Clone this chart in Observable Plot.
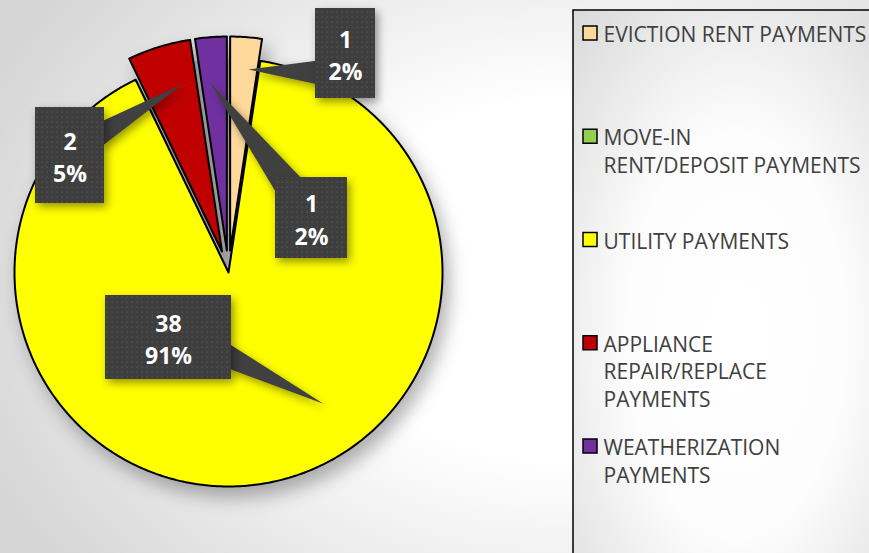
<!DOCTYPE html>
<html><head><meta charset="utf-8">
<script src="https://cdn.jsdelivr.net/npm/d3@7"></script>
<script src="https://cdn.jsdelivr.net/npm/@observablehq/plot@0.6"></script>
<style>
html,body{margin:0;padding:0;overflow:hidden;}
#chart{width:869px;height:553px;background:radial-gradient(ellipse 620px 470px at 560px 280px,#ffffff 0%,#ffffff 38%,#d6d6d6 100%);}
#chart svg{display:block;background:transparent;}
</style></head><body><div id="chart"></div>
<script>
// ---- data ----
const categories = ["EVICTION RENT PAYMENTS","MOVE-IN RENT/DEPOSIT PAYMENTS","UTILITY PAYMENTS","APPLIANCE REPAIR/REPLACE PAYMENTS","WEATHERIZATION PAYMENTS"];
const legendLabels = ["EVICTION RENT PAYMENTS","MOVE-IN\nRENT/DEPOSIT PAYMENTS","UTILITY PAYMENTS","APPLIANCE\nREPAIR/REPLACE\nPAYMENTS","WEATHERIZATION\nPAYMENTS"];
const counts = [1, 0, 38, 2, 1];
const percents = [2, 0, 91, 5, 2];   // as printed on the chart
const colors = ["#fed99b","#92d050","#ffff00","#c00000","#7030a0"];

// ---- layout (pixel space, mapped through identity-like scales) ----
const W = 869, H = 553;
const C = [228, 272], R = 214, EXPLODE = 22;
const exploded = [true, false, false, true, true];
const labelLayout = [
  {box:[315,375,8,98],   tipDa: 1.5,  tipR:182, base:[[318,60],[318,84]]},
  null,
  {box:[105,231,295,379],tipDa:-27.3, tipR:162, base:[[228,343],[228,368]]},
  {box:[35,104,107,203], tipDa: 3.9,  tipR:172, base:[[101,121],[101,146]]},
  {box:[275,347,177,258],tipDa:-1.3,  tipR:168, base:[[278,196],[303,180]]}
];
const legendBox = {x1:573, x2:900, y1:10, y2:600};
const legendY0 = 33, legendStep = 103.25;

// ---- geometry ----
const arcs = d3.pie().sort(null).value(d => d)(counts);
const slicePts = [], gapPts = [], pointerPts = [], labels = [];
arcs.forEach((a, i) => {
  if (counts[i] === 0) return;
  const cat = categories[i];
  const mid = (a.startAngle + a.endAngle) / 2;
  const off = exploded[i] ? EXPLODE : 0;
  const ox = C[0] + off * Math.sin(mid), oy = C[1] - off * Math.cos(mid);
  const n = Math.max(4, Math.ceil((a.endAngle - a.startAngle) / 0.01));
  slicePts.push({cat, x: ox, y: oy});
  for (let k = 0; k <= n; k++) {
    const t = a.startAngle + (a.endAngle - a.startAngle) * k / n;
    slicePts.push({cat, x: ox + R * Math.sin(t), y: oy - R * Math.cos(t)});
  }
  if (exploded[i]) {
    gapPts.push({cat, x: C[0], y: C[1]});
    for (let k = 0; k <= n; k++) {
      const t = a.startAngle + (a.endAngle - a.startAngle) * k / n;
      gapPts.push({cat, x: C[0] + R * Math.sin(t), y: C[1] - R * Math.cos(t)});
    }
  }
  const L = labelLayout[i];
  if (L) {
    const ta = mid + L.tipDa * Math.PI / 180;
    pointerPts.push({cat, x: ox + L.tipR * Math.sin(ta), y: oy - L.tipR * Math.cos(ta)});
    L.base.forEach(p => pointerPts.push({cat, x: p[0], y: p[1]}));
    labels.push({cat, x1: L.box[0], x2: L.box[1], y1: L.box[2], y2: L.box[3],
      text: `${counts[i]}\n${percents[i]}%`});
  }
});
const legendData = categories.map((c, i) => ({cat: c, label: legendLabels[i], y: legendY0 + i * legendStep}));

const svg = Plot.plot({
  width: W, height: H,
  margin: 0,
  x: {domain: [0, W], range: [0, W], axis: null},
  y: {domain: [0, H], range: [0, H], axis: null},
  color: {domain: categories, range: colors},
  style: {background: "transparent"},
  marks: [
    Plot.rect([legendBox], {x1: "x1", x2: "x2", y1: "y1", y2: "y2", fill: "url(#legendBg)", stroke: "black", strokeWidth: 1.5}),
    Plot.rect(legendData, {x1: () => 583, x2: () => 597, y1: d => d.y - 7, y2: d => d.y + 7, fill: "cat", stroke: "black", strokeWidth: 1.5}),
    Plot.text(legendData, {x: () => 603, y: d => d.y - 11, text: "label", textAnchor: "start", lineAnchor: "top", lineHeight: 1.31, fontSize: 21, fill: "#404040", fontFamily: "Open Sans"}),
    Plot.line(gapPts, {x: "x", y: "y", z: "cat", fill: "#cbcbcb", strokeOpacity: 0, curve: "linear-closed"}),
    Plot.line(slicePts, {x: "x", y: "y", z: "cat", fill: "cat", stroke: "black", strokeWidth: 2, curve: "linear-closed"}),
    Plot.line(pointerPts, {x: "x", y: "y", z: "cat", fill: "#404040", strokeOpacity: 0, curve: "linear-closed"}),
    Plot.rect(labels, {x1: "x1", x2: "x2", y1: "y1", y2: "y2", fill: "url(#dots)"}),
    Plot.text(labels, {x: d => (d.x1 + d.x2) / 2, y: d => (d.y1 + d.y2) / 2, text: "text", fill: "white", fontSize: 23, fontWeight: "bold", lineHeight: 1.43, fontFamily: "Open Sans"})
  ]
});

const s = d3.select(svg);
const defs = s.insert("defs", ":first-child");
const pat = defs.append("pattern").attr("id", "dots").attr("width", 5).attr("height", 5).attr("patternUnits", "userSpaceOnUse");
pat.append("rect").attr("width", 5).attr("height", 5).attr("fill", "#3e3e3e");
pat.append("rect").attr("x", 1.5).attr("y", 1.5).attr("width", 1.3).attr("height", 1.3).attr("fill", "#575757");
const lg = defs.append("radialGradient").attr("id", "legendBg").attr("cx", "0.5").attr("cy", "0.55").attr("r", "0.75");
lg.append("stop").attr("offset", "0").attr("stop-color", "#ffffff");
lg.append("stop").attr("offset", "0.45").attr("stop-color", "#fdfdfd");
lg.append("stop").attr("offset", "1").attr("stop-color", "#d8d8d8");
const groups = svg.querySelectorAll(":scope > g");
d3.select(groups[4]).style("filter", "drop-shadow(6px 10px 9px rgba(0,0,0,0.3))");
d3.select(groups[5]).style("filter", "drop-shadow(3px 4px 4px rgba(0,0,0,0.4))");
d3.select(groups[6]).style("filter", "drop-shadow(3px 4px 4px rgba(0,0,0,0.4))");
document.getElementById("chart").appendChild(svg);
</script>
</body></html>
